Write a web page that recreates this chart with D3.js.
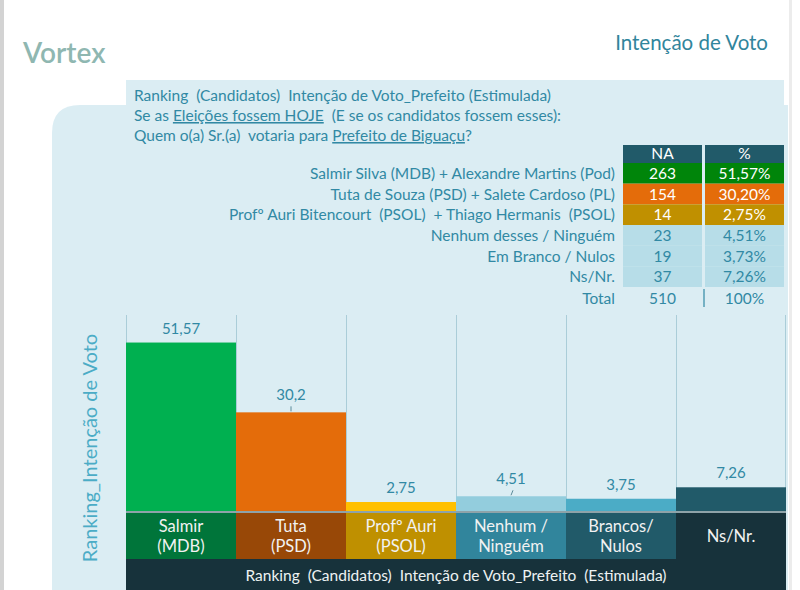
<!DOCTYPE html>
<html>
<head>
<meta charset="utf-8">
<script src="https://cdn.jsdelivr.net/npm/d3@7"></script>
<style>
  body { margin: 0; background: #fff; }
  svg { display: block; font-family: Lato, "Open Sans", sans-serif; }
</style>
</head>
<body>
<div id="graph"></div>
<script>
// chart data
var categories = ['Salmir|(MDB)', 'Tuta|(PSD)', 'Profº Auri|(PSOL)', 'Nenhum /|Ninguém', 'Brancos/|Nulos', 'Ns/Nr.'];
var values = [51.57, 30.2, 2.75, 4.51, 3.75, 7.26];
var valueLabels = ['51,57', '30,2', '2,75', '4,51', '3,75', '7,26'];
var leaderIdx = [1, 3];
var barColors = ['#00b050', '#e46c0a', '#ffc000', '#93cddd', '#4bacc6', '#215a69'];
var bandColors = ['#00753a', '#984807', '#bf9000', '#31859c', '#215a69', '#17323b'];

// table data
var rowNames = ['Salmir Silva (MDB) + Alexandre Martins (Pod)', 'Tuta de Souza (PSD) + Salete Cardoso (PL)',
    'Profº Auri Bitencourt  (PSOL)  + Thiago Hermanis  (PSOL)', 'Nenhum desses / Ninguém', 'Em Branco / Nulos', 'Ns/Nr.'];
var rowNA = ['263', '154', '14', '23', '19', '37'];
var rowPct = ['51,57%', '30,20%', '2,75%', '4,51%', '3,73%', '7,26%'];
var rowColors = ['#00850a', '#e46c0a', '#c09000', '#b7dde8', '#b7dde8', '#b7dde8'];
var totalNA = '510';
var totalPct = '100%';

const width = 800;
const height = 590;
const textColor = '#3189a4';

let svg = d3.select('#graph')
    .append('svg')
    .attr('width', width)
    .attr('height', height);

// page frame
svg.append('rect').attr('x', 0).attr('y', 0).attr('width', 4).attr('height', height).attr('fill', '#d3d3d3');
svg.append('rect').attr('x', 789).attr('y', 0).attr('width', 3).attr('height', height).attr('fill', '#ececec');

// backgrounds
svg.append('path')
    .attr('d', 'M52,590 L52,133 Q52,105 80,105 L788,105 L788,590 Z')
    .attr('fill', '#dbedf3');
svg.append('rect').attr('x', 126).attr('y', 80).attr('width', 658).attr('height', 40).attr('fill', '#dbedf3');

svg.append('text')
    .attr('x', 23).attr('y', 63)
    .attr('font-size', 28).attr('font-weight', 600)
    .attr('fill', '#8fb7b1')
    .text('Vortex');

svg.append('text')
    .attr('x', 768).attr('y', 50)
    .attr('text-anchor', 'end')
    .attr('font-size', 20.5)
    .attr('fill', '#31859c')
    .text('Intenção de Voto');

// question text
let q = svg.append('g').attr('font-size', 15.5).attr('fill', textColor);
q.append('text').attr('x', 134).attr('y', 101).attr('xml:space', 'preserve')
    .text('Ranking  (Candidatos)  Intenção de Voto_Prefeito (Estimulada)');
let l2 = q.append('text').attr('x', 134).attr('y', 121).attr('xml:space', 'preserve');
l2.append('tspan').text('Se as ');
l2.append('tspan').attr('text-decoration', 'underline').text('Eleições fossem HOJE');
l2.append('tspan').text('  (E se os candidatos fossem esses):');
let l3 = q.append('text').attr('x', 134).attr('y', 141).attr('xml:space', 'preserve');
l3.append('tspan').text('Quem o(a) Sr.(a)  votaria para ');
l3.append('tspan').attr('text-decoration', 'underline').text('Prefeito de Biguaçu');
l3.append('tspan').text('?');

// table
const colX = [623, 705];
const colW = 79;

let table = svg.append('g').attr('font-size', 15.5);
table.selectAll('.hdr')
    .data(['NA', '%'])
    .enter()
    .append('rect')
    .attr('x', (d, i) => colX[i])
    .attr('y', 145)
    .attr('width', colW)
    .attr('height', 18)
    .attr('fill', '#215a69');
table.selectAll('.hdrt')
    .data(['NA', '%'])
    .enter()
    .append('text')
    .attr('x', (d, i) => colX[i] + colW / 2)
    .attr('y', 159)
    .attr('text-anchor', 'middle')
    .attr('fill', '#ffffff')
    .text((d) => d);

const rowScale = d3.scaleBand().domain(d3.range(rowNames.length)).range([163, 287]);

rowNames.forEach(function(name, i) {
    let y0 = rowScale(i);
    let h = rowScale.bandwidth();
    let light = i >= 3;
    [rowNA[i], rowPct[i]].forEach(function(v, j) {
        table.append('rect')
            .attr('x', colX[j]).attr('y', y0)
            .attr('width', colW).attr('height', h)
            .attr('fill', rowColors[i]);
        table.append('text')
            .attr('x', colX[j] + colW / 2).attr('y', y0 + h / 2 + 5.5)
            .attr('text-anchor', 'middle')
            .attr('fill', light ? textColor : '#ffffff')
            .text(v);
    });
    table.append('text')
        .attr('x', 615).attr('y', y0 + h / 2 + 5.5)
        .attr('text-anchor', 'end')
        .attr('xml:space', 'preserve')
        .attr('fill', textColor)
        .text(name);
});

// total row
table.append('text').attr('x', 615).attr('y', 304).attr('text-anchor', 'end').attr('fill', textColor).text('Total');
table.append('text').attr('x', colX[0] + colW / 2).attr('y', 304).attr('text-anchor', 'middle').attr('fill', textColor).text(totalNA);
table.append('text').attr('x', colX[1] + colW / 2).attr('y', 304).attr('text-anchor', 'middle').attr('fill', textColor).text(totalPct);
table.append('line').attr('x1', 704).attr('x2', 704).attr('y1', 289).attr('y2', 307).attr('stroke', textColor).attr('stroke-width', 1.2);

// bar chart
const xScale = d3.scaleBand()
    .domain(d3.range(categories.length))
    .range([126, 786]);

const yScale = d3.scaleLinear()
    .domain([0, 60])
    .range([511, 315]);

let chart = svg.append('g');

// vertical grid lines at column edges
chart.selectAll('.grid')
    .data(d3.range(categories.length + 1))
    .enter()
    .append('line')
    .attr('x1', (d) => d < categories.length ? xScale(d) + 0.5 : xScale(d - 1) + xScale.bandwidth() - 0.5)
    .attr('x2', (d) => d < categories.length ? xScale(d) + 0.5 : xScale(d - 1) + xScale.bandwidth() - 0.5)
    .attr('y1', yScale(60))
    .attr('y2', yScale(0))
    .attr('stroke', '#aacdd8')
    .attr('stroke-width', 1);

chart.selectAll('.bar')
    .data(values)
    .enter()
    .append('rect')
    .attr('x', (d, i) => xScale(i))
    .attr('y', (d) => yScale(d))
    .attr('width', xScale.bandwidth())
    .attr('height', (d) => yScale(0) - yScale(d))
    .attr('fill', (d, i) => barColors[i]);

chart.selectAll('.val')
    .data(values)
    .enter()
    .append('text')
    .attr('x', (d, i) => xScale(i) + xScale.bandwidth() / 2)
    .attr('y', (d, i) => yScale(d) - (leaderIdx.includes(i) ? 12 : 9))
    .attr('text-anchor', 'middle')
    .attr('font-size', 15)
    .attr('fill', textColor)
    .text((d, i) => valueLabels[i]);

// small leader ticks
leaderIdx.forEach(function(i) {
    let cx = xScale(i) + xScale.bandwidth() / 2;
    let top = yScale(values[i]);
    chart.append('line')
        .attr('x1', cx).attr('x2', i == 3 ? cx + 2 : cx)
        .attr('y1', top - 1).attr('y2', top - 6)
        .attr('stroke', '#5a8a99').attr('stroke-width', 1);
});

// baseline
chart.append('rect').attr('x', 126).attr('y', 511).attr('width', 660).attr('height', 2).attr('fill', '#8ea3a9');

// category bands
chart.selectAll('.band')
    .data(categories)
    .enter()
    .append('rect')
    .attr('x', (d, i) => xScale(i))
    .attr('y', 513)
    .attr('width', xScale.bandwidth())
    .attr('height', 46)
    .attr('fill', (d, i) => bandColors[i]);

categories.forEach(function(c, i) {
    let parts = c.split('|');
    let cx = xScale(i) + xScale.bandwidth() / 2;
    let t = chart.append('text')
        .attr('x', cx)
        .attr('text-anchor', 'middle')
        .attr('font-size', 16.5)
        .attr('fill', '#f2f2f2');
    if (parts.length == 1) {
        t.attr('y', 542).text(parts[0]);
    } else {
        t.append('tspan').attr('x', cx).attr('y', 532).text(parts[0]);
        t.append('tspan').attr('x', cx).attr('y', 552).text(parts[1]);
    }
});

// bottom title band
chart.append('rect').attr('x', 126).attr('y', 559).attr('width', 660).attr('height', 31).attr('fill', '#17323b');
chart.append('text')
    .attr('x', 456).attr('y', 581)
    .attr('text-anchor', 'middle')
    .attr('xml:space', 'preserve')
    .attr('font-size', 15.5)
    .attr('fill', '#eef2f3')
    .text('Ranking  (Candidatos)  Intenção de Voto_Prefeito  (Estimulada)');

// y axis title
svg.append('text')
    .attr('transform', 'translate(97,448) rotate(-90)')
    .attr('text-anchor', 'middle')
    .attr('font-size', 20)
    .attr('fill', '#4bacc6')
    .text('Ranking_Intenção de Voto');
</script>
</body>
</html>
